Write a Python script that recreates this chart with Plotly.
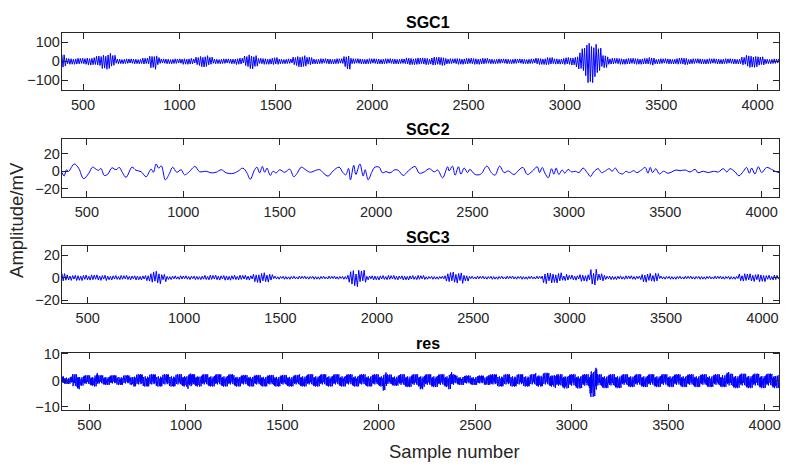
import numpy as np
import plotly.graph_objects as go

# ---------------- data ----------------
# SGC1: burst envelope, segments start at sgc1_x (samples), upper / lower amplitude (mV)
sgc1_x = [390, 414, 517, 569, 595, 620, 645, 672, 810, 845, 870, 885, 897, 1017, 1069, 1086, 1110, 1150,
          1172, 1290, 1327, 1336, 1360, 1385, 1405, 1483, 1517, 1586, 1610, 1660, 1690, 1853, 1870, 1885,
          1896, 2138, 2172, 2293, 2310, 2388, 2431, 2603, 2845, 2900, 2940, 3000, 3052, 3070, 3086, 3105,
          3120, 3150, 3163, 3190, 3224, 3293, 3430, 3465, 3586, 3637, 3913, 3940, 4000, 4034]
sgc1_up = [36, 16, 20, 28, 38, 42, 32, 13, 17, 30, 36, 20, 13, 16, 13, 22, 30, 22,
           13, 17, 13, 28, 40, 30, 16, 20, 13, 22, 30, 22, 14, 28, 40, 20,
           14, 13, 18, 15, 22, 14, 16, 13, 17, 20, 15, 20, 30, 45, 70, 95,
           112, 90, 70, 34, 16, 16, 20, 14, 18, 14, 22, 32, 24, 13]
sgc1_lo = [36, 16, 20, 28, 38, 42, 30, 13, 17, 34, 42, 20, 13, 16, 13, 22, 30, 22,
           13, 17, 13, 28, 40, 30, 16, 20, 13, 22, 30, 22, 14, 28, 42, 20,
           14, 13, 18, 15, 22, 14, 16, 13, 17, 20, 15, 20, 30, 45, 70, 95,
           113, 90, 70, 34, 16, 16, 20, 14, 18, 14, 22, 32, 24, 13]
sgc1_jitter = [1.0, 0.85, 0.95, 0.7, 1.0, 0.8, 0.9]
sgc1_range = [390, 4111]

# SGC2: extrema (sample, mV)
sgc2_x = [370, 382, 394, 405, 434, 457, 483, 509, 529, 547, 561, 573, 590, 607, 630, 651, 668, 685, 703,
          734, 755, 781, 807, 833, 845, 859, 872, 886, 907, 928, 945, 966, 989, 1006, 1028, 1061, 1084,
          1119, 1145, 1171, 1197, 1223, 1257, 1283, 1309, 1330, 1347, 1370, 1382, 1396, 1410, 1422, 1434,
          1451, 1465, 1482, 1500, 1526, 1552, 1573, 1590, 1612, 1638, 1659, 1687, 1708, 1729, 1751, 1777,
          1808, 1829, 1843, 1857, 1867, 1884, 1895, 1916, 1933, 1943, 1959, 1976, 1994, 2016, 2033, 2051,
          2072, 2098, 2115, 2141, 2167, 2202, 2224, 2250, 2276, 2302, 2319, 2345, 2371, 2379, 2396, 2410,
          2427, 2440, 2457, 2474, 2486, 2514, 2543, 2574, 2600, 2617, 2641, 2664, 2686, 2715, 2741, 2762,
          2784, 2810, 2836, 2848, 2862, 2876, 2893, 2910, 2922, 2934, 2948, 2965, 2979, 2996, 3014, 3034,
          3052, 3074, 3095, 3112, 3129, 3152, 3169, 3189, 3210, 3224, 3241, 3258, 3279, 3296, 3314, 3336,
          3353, 3376, 3396, 3410, 3422, 3434, 3451, 3469, 3491, 3514, 3534, 3555, 3577, 3603, 3629, 3655,
          3669, 3698, 3724, 3750, 3776, 3801, 3819, 3836, 3862, 3882, 3905, 3922, 3936, 3948, 3965, 3983,
          4000, 4026, 4051, 4077, 4090]
sgc2_y = [-1.1, -5.5, 1.8, 0.0, 8.4, 3.6, -8.4, -2.5, 4.7, 2.5, 1.1, 3.3, -4.7, -3.6, 4.0, 1.8, 4.4, -1.8, -6.9,
          4.7, 1.1, -0.4, -6.2, 2.5, -1.1, 8.4, 3.6, 6.2, -9.8, -2.5, 4.7, -1.1, 1.8, -4.0, -1.1, 5.5, -0.4,
          0.0, -1.8, -1.1, 1.8, -1.8, -2.5, 0.0, 3.6, -1.8, -9.1, 1.8, 4.7, -1.8, 5.5, -1.1, 3.6,
          -4.7, 0.0, -1.8, 1.8, -1.1, 2.5, -6.2, -2.5, 4.7, 1.1, -1.1, 1.1, 1.8, -2.5, -5.5, 0.4,
          4.7, -1.8, -4.0, 3.3, -9.8, 6.9, -3.6, 8.4, -5.5, 1.8, -9.8, -1.8, 4.7, 4.7, -1.8, -0.4,
          -1.8, 1.8, 1.1, -4.7, 0.4, 5.5, -2.2, -0.7, 3.0, -0.7, 1.5, -7.4, 5.2, 0.4, 5.9, -4.4,
          5.2, -3.3, 3.7, -1.5, 2.2, -3.7, -3.3, 5.9, -2.2, -4.4, 5.9, -1.5, 0.4, -3.7, 1.5, 4.4,
          -3.7, 0.0, 5.2, -1.5, 4.4, -2.2, -7.4, 3.0, -3.3, 3.7, -3.7, 1.5, -2.2, 2.2, -0.7, 0.0,
          -1.5, 3.7, -1.5, -5.9, -0.7, 3.0, -1.5, 0.4, 3.0, 0.0, 3.7, -1.5, -3.0, 0.0, -1.5, 0.7,
          -1.5, 1.5, 4.4, -2.2, 4.4, -1.5, 3.0, -3.0, 0.0, -2.2, -0.7, 1.5, 0.7, 1.5, -0.7, 2.2,
          -1.5, 0.0, -1.5, 0.0, -0.7, 3.0, -0.7, 3.0, -0.7, -5.2, 0.0, 4.4, -2.2, 3.7, -3.0, 5.2,
          -1.5, 4.4, 2.2, -0.7, -1.5]
sgc2_range = [370, 4090]

# SGC3: envelope segments
sgc3_x = [366, 388, 600, 804, 830, 880, 908, 1100, 1359, 1380, 1440, 1463, 1844, 1860, 1900, 1948,
          2252, 2350, 2370, 2450, 2480, 2859, 2900, 2960, 2997, 3049, 3109, 3143, 3186, 3376, 3462,
          3876, 4014]
sgc3_up = [4, 2.5, 2, 3.5, 5.7, 3.5, 1.7, 2.2, 3.5, 4.6, 3, 1.4, 4, 6.6, 6.6, 2,
           1.4, 3.5, 5, 3, 1.4, 5.5, 4.6, 3, 2.3, 3.2, 7.5, 3.5, 1.7, 4, 1.4,
           3.5, 2.3]
sgc3_lo = [4, 2.5, 2, 3.5, 5.7, 3.5, 1.7, 2.2, 3.5, 4.6, 3, 1.4, 4, 9.4, 5, 2,
           1.4, 3.5, 5, 3, 1.4, 5.5, 4.6, 3, 2.3, 3.2, 7.5, 3.5, 1.7, 4, 1.4,
           3.5, 2.3]
sgc3_jitter = [1.0, 0.7, 0.9, 0.55, 1.0, 0.8, 0.6, 0.95, 0.75, 0.5, 0.85]
sgc3_range = [366, 4086]

# res: envelope segments
res_x = [357, 413, 448, 525, 545, 724, 1005, 1035, 1243, 1588, 2020, 2040, 2110, 2215, 2230, 2362,
         2378, 2396, 2560, 2578, 2811, 2900, 2915, 3095, 3130, 3261, 3780, 3815, 4055]
res_up = [1.6, 2.4, 2.0, 3.1, 2.0, 2.4, 2.6, 2.4, 2.1, 2.4, 3.4, 2.3, 2.4, 2.4, 2.4, 3.5,
          2.4, 1.9, 3.2, 2.4, 2.9, 3.4, 2.4, 5.3, 2.4, 2.4, 3.2, 2.6, 3.0]
res_lo = [1.3, 3.3, 2.0, 2.3, 1.7, 2.3, 3.3, 2.3, 2.3, 2.3, 3.8, 2.0, 2.5, 3.3, 2.5, 3.3,
          2.5, 1.7, 1.7, 2.3, 2.3, 2.3, 3.0, 6.2, 2.9, 2.5, 2.5, 2.9, 2.9]
res_jitter = [1.0, 0.6, 0.85, 0.45, 0.95, 0.7, 0.35, 0.9, 0.55, 0.8, 0.4, 1.0, 0.65, 0.75, 0.5, 0.9, 0.3]
res_range = [357, 4074]

titles = ["SGC1", "SGC2", "SGC3", "res"]
x_ticks = [500, 1000, 1500, 2000, 2500, 3000, 3500, 4000]
y_ticks = [[-100, 0, 100], [-20, 0, 20], [-20, 0, 20], [-10, 0, 10]]
y_ranges = [[-150, 150], [-29, 37], [-22, 28], [-11, 10.4]]


def zigzag(seg_x, up, lo, xr, half, jitter=None):
    xs = np.arange(xr[0], xr[1] + 1e-9, half, dtype=float)
    idx = np.searchsorted(np.array(seg_x), xs, side="right") - 1
    idx = np.clip(idx, 0, len(seg_x) - 1)
    upa = np.array(up, float)[idx]
    loa = np.array(lo, float)[idx]
    k = np.arange(len(xs))
    ys = np.where(k % 2 == 0, upa, -loa)
    if jitter is not None:
        j = np.array(jitter, float)
        ys = ys * j[k % len(j)]
    return xs, ys


blue = "#0000FF"
fig = go.Figure()
x1, y1 = zigzag(sgc1_x, sgc1_up, sgc1_lo, sgc1_range, 6, sgc1_jitter)
fig.add_trace(go.Scatter(x=x1, y=y1, mode="lines", line=dict(color=blue, width=1), xaxis="x", yaxis="y"))
fig.add_trace(go.Scatter(x=sgc2_x, y=sgc2_y, mode="lines", line=dict(color=blue, width=1, shape="spline", smoothing=1),
                         xaxis="x2", yaxis="y2"))
x3, y3 = zigzag(sgc3_x, sgc3_up, sgc3_lo, sgc3_range, 7, sgc3_jitter)
fig.add_trace(go.Scatter(x=x3, y=y3, mode="lines", line=dict(color=blue, width=1), xaxis="x3", yaxis="y3"))
x4, y4 = zigzag(res_x, res_up, res_lo, res_range, 2, res_jitter)
fig.add_trace(go.Scatter(x=x4, y=y4, mode="lines", line=dict(color=blue, width=1), xaxis="x4", yaxis="y4"))

W, H = 791, 473
xdom = [62 / W, 781 / W]
panels_px = [(26.7, 85), (135.7, 195), (245.7, 304), (355.7, 414)]
x_ranges = [sgc1_range, sgc2_range, sgc3_range, res_range]
title_y = [16, 126, 237, 346]

font_fam = "Liberation Sans, Arial, sans-serif"
axcol = "#262626"
common = dict(showline=True, linecolor=axcol, linewidth=1, mirror="allticks", ticks="inside", ticklen=6,
              tickcolor=axcol, tickwidth=1, showgrid=False, zeroline=False,
              tickfont=dict(family=font_fam, size=14.5, color=axcol))
layout = dict(width=W, height=H, margin=dict(l=0, r=0, t=0, b=0), showlegend=False,
              plot_bgcolor="white", paper_bgcolor="white")
annotations = []
for i in range(4):
    s = "" if i == 0 else str(i + 1)
    top, bot = panels_px[i]
    layout["xaxis" + s] = dict(common, domain=xdom, range=x_ranges[i], tickvals=x_ticks,
                               anchor="y" + s, ticklabelstandoff=2)
    layout["yaxis" + s] = dict(common, domain=[1 - bot / H, 1 - top / H], range=y_ranges[i],
                               tickvals=y_ticks[i], anchor="x" + s, ticklabelstandoff=-2)
    annotations.append(dict(text="<b>%s</b>" % titles[i], x=429 / W, y=1 - title_y[i] / H, xref="paper",
                            yref="paper", showarrow=False, xanchor="center", yanchor="middle",
                            font=dict(family=font_fam, size=16, color="black")))
annotations.append(dict(text="Amplitude/mV", x=17 / W, y=1 - 219 / H, xref="paper", yref="paper",
                        showarrow=False, textangle=-90, xanchor="center", yanchor="middle",
                        font=dict(family=font_fam, size=18.5, color=axcol)))
annotations.append(dict(text="Sample number", x=456 / W, y=1 - 457 / H, xref="paper", yref="paper",
                        showarrow=False, xanchor="center", yanchor="middle",
                        font=dict(family=font_fam, size=18.5, color=axcol)))
layout["annotations"] = annotations
fig.update_layout(**layout)
fig.write_html("out.html")
